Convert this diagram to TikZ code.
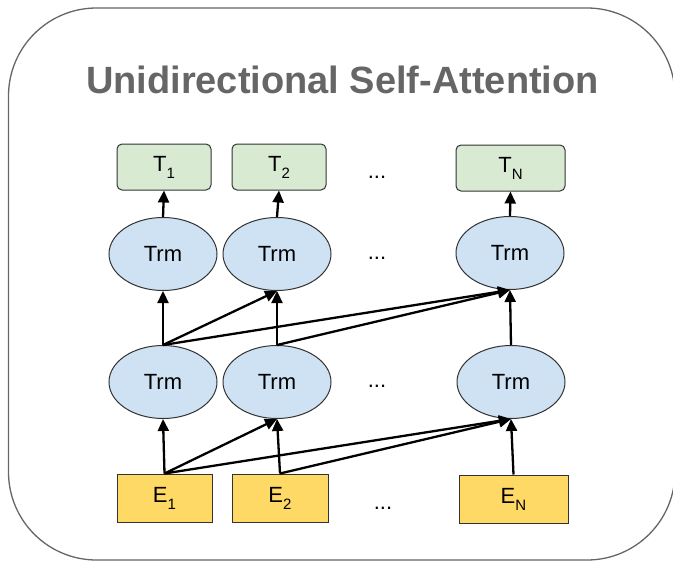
\documentclass[tikz,border=0pt]{standalone}
\usepackage{fontspec}
\setmainfont{Liberation Sans}
\usetikzlibrary{shapes.geometric,arrows.meta}

\definecolor{framegray}{HTML}{666666}
\definecolor{titlegray}{HTML}{666666}
\definecolor{edgedark}{HTML}{333333}
\definecolor{outgreen}{HTML}{D9EAD3}
\definecolor{trmblue}{HTML}{CFE2F3}
\definecolor{embyellow}{HTML}{FFD966}

% token label with a lowered subscript
\newcommand\tok[2]{#1\raisebox{-0.32em}{\fontsize{15}{15}\selectfont #2}}

\tikzset{
  labelfont/.style={font=\fontsize{22}{24}\selectfont},
  outbox/.style={draw=edgedark, line width=1pt, fill=outgreen, rounded corners=5pt,
    minimum height=46pt, inner sep=0pt, labelfont},
  trmnode/.style={ellipse, draw=edgedark, line width=1pt, fill=trmblue,
    minimum width=108pt, minimum height=73pt, inner sep=0pt, labelfont},
  embbox/.style={draw=edgedark, line width=1pt, fill=embyellow,
    minimum height=48pt, inner sep=0pt, labelfont},
  dots/.style={labelfont, anchor=base, inner sep=0pt},
  flow/.style={draw=black, line width=2.3pt,
    -{Triangle[length=12pt,width=11pt]}},
}

\begin{document}
\begin{tikzpicture}[x=1pt,y=-1pt]
  \useasboundingbox (0,0) rectangle (673,562);

  % outer frame (its right side runs just past the page edge)
  \begin{scope}
    \clip (0,0) rectangle (673,562);
    \draw[framegray, line width=1.3pt, rounded corners=88pt] (8.5,8) rectangle (675,560);
  \end{scope}

  % title
  \node[anchor=base, text=titlegray, inner sep=0pt,
        font=\fontsize{38}{40}\selectfont\bfseries] (title) at (342.5,93)
        {Unidirectional Self-Attention};

  % outputs
  \node[outbox, minimum width=94pt]  (t1) at (164,167) {\tok{T}{1}};
  \node[outbox, minimum width=94pt]  (t2) at (279,167) {\tok{T}{2}};
  \node[outbox, minimum width=109pt] (tn) at (510.5,168) {\tok{T}{N}};

  % upper transformer layer
  \node[trmnode] (u1) at (163,254) {Trm};
  \node[trmnode] (u2) at (277,254) {Trm};
  \node[trmnode] (un) at (510,253) {Trm};

  % lower transformer layer
  \node[trmnode] (l1) at (163,382) {Trm};
  \node[trmnode] (l2) at (277,382) {Trm};
  \node[trmnode] (ln) at (511,382) {Trm};

  % embeddings
  \node[embbox, minimum width=95pt]  (e1) at (164.5,498) {\tok{E}{1}};
  \node[embbox, minimum width=96pt]  (e2) at (280,498)   {\tok{E}{2}};
  \node[embbox, minimum width=109pt] (en) at (513.5,499) {\tok{E}{N}};

  % ellipses between columns
  \node[dots] (d1) at (377,178) {...};
  \node[dots] (d2) at (377,259) {...};
  \node[dots] (d3) at (377,387) {...};
  \node[dots] (d4) at (383,509) {...};

  % embeddings -> lower layer (each position sees itself and earlier ones)
  \draw[flow] (e1.north) -- (l1.south);
  \draw[flow] (e1.north) -- (l2.south);
  \draw[flow] (e1.north) -- (ln.south);
  \draw[flow] (e2.north) -- (l2.south);
  \draw[flow] (e2.north) -- (ln.south);
  \draw[flow] (en.north) -- (ln.south);

  % lower layer -> upper layer
  \draw[flow] (l1.north) -- (u1.south);
  \draw[flow] (l1.north) -- (u2.south);
  \draw[flow] (l1.north) -- (un.south);
  \draw[flow] (l2.north) -- (u2.south);
  \draw[flow] (l2.north) -- (un.south);
  \draw[flow] (ln.north) -- (un.south);

  % upper layer -> outputs
  \draw[flow] (u1.north) -- (t1.south);
  \draw[flow] (u2.north) -- (t2.south);
  \draw[flow] (un.north) -- (tn.south);
\end{tikzpicture}
\end{document}
